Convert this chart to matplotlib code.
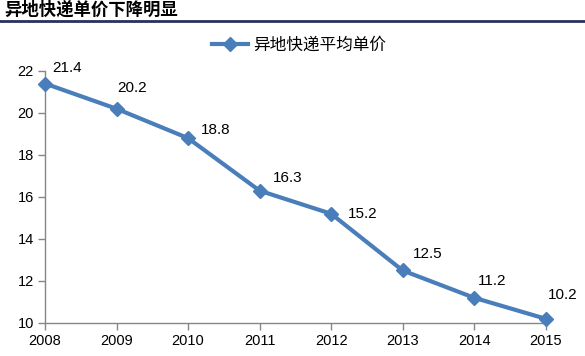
import matplotlib
matplotlib.use("Agg")
import matplotlib.pyplot as plt
from matplotlib.lines import Line2D

years = ["2008", "2009", "2010", "2011", "2012", "2013", "2014", "2015"]
prices = [21.4, 20.2, 18.8, 16.3, 15.2, 12.5, 11.2, 10.2]
series_name = "异地快递平均单价"
title = "异地快递单价下降明显"
yticks = [10, 12, 14, 16, 18, 20, 22]

# label offsets in points (style only)
label_offsets = [(16, 11), (11, 15), (20, 6), (20, 9), (23, 0), (18, 12), (13, 12), (12, 17)]

plt.rcParams['font.family'] = ['Liberation Sans', 'Noto Sans CJK SC', 'DejaVu Sans']

fig = plt.figure(figsize=(5.85, 3.56), dpi=100)
ax = fig.add_axes([0.0769, 0.0927, 0.856, 0.708])

color = '#4A7EBB'
x = list(range(len(years)))
ax.plot(x, prices, color=color, lw=3, marker='D', ms=7, mec=color, mfc=color,
        clip_on=False, zorder=3, label=series_name)

for xi, v, off in zip(x, prices, label_offsets):
    ax.annotate(f"{v:.1f}", (xi, v), xytext=off, textcoords='offset points',
                ha='center', va='center', fontsize=11, color='black')

ax.set_xlim(0, len(years) - 1)
ax.set_ylim(10, 22)
ax.set_xticks(x)
ax.set_xticklabels(years, fontsize=10.5)
ax.set_yticks(yticks)
ax.set_yticklabels([str(t) for t in yticks], fontsize=10.5)

for s in ['top', 'right']:
    ax.spines[s].set_visible(False)
for s in ['left', 'bottom']:
    ax.spines[s].set_color('#868686')
    ax.spines[s].set_linewidth(1)
ax.tick_params(axis='both', direction='out', length=5, color='#868686', width=1, pad=3)

handle = Line2D([0], [0], color=color, lw=3, marker='D', ms=7, mec=color, mfc=color)
fig.legend([handle], [series_name], loc='center', bbox_to_anchor=(299/585, 1 - 45/356),
           frameon=False, handlelength=2.2, handletextpad=0.3,
           prop={'family': ['Noto Sans CJK SC', 'DejaVu Sans'], 'size': 12})

fig.text(4/585, 1 - 10/356, title, ha='left', va='center', fontsize=12.5, fontweight='bold',
         family=['Noto Sans CJK SC', 'DejaVu Sans'])
fig.add_artist(Line2D([0, 1], [1 - 20.5/356, 1 - 20.5/356], color='#2B2F5E', lw=2,
                      transform=fig.transFigure))

fig.savefig("out.png", dpi=100)
